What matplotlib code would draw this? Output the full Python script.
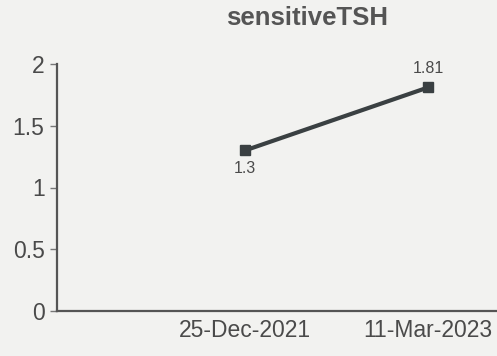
import matplotlib
matplotlib.use("Agg")
import matplotlib.pyplot as plt

title = "sensitiveTSH"
categories = ["25-Dec-2021", "11-Mar-2023"]
values = [1.3, 1.81]
yticks = [0, 0.5, 1, 1.5, 2]
ytick_labels = ["0", "0.5", "1", "1.5", "2"]

plt.rcParams['font.family'] = ['Liberation Sans', 'DejaVu Sans']
bg = "#f2f2f0"
txt = "#4a4a4a"
line_c = "#3a4042"

fig = plt.figure(figsize=(4.97, 3.56), dpi=100, facecolor=bg)
ax = fig.add_axes([57/497, 1 - 311/356, (497 - 57)/497, (311 - 64)/356])
ax.set_facecolor(bg)

xs = list(range(1, len(categories) + 1))
ax.plot(xs, values, color=line_c, lw=3, marker="s", ms=6.5, mfc=line_c, mec=line_c)

ax.set_xlim(-0.027, 2.377)
ax.set_ylim(0, 2)
ax.set_yticks(yticks)
ax.set_yticklabels(ytick_labels, fontsize=16.5, color=txt)
ax.set_xticks(xs)
ax.set_xticklabels(categories, fontsize=16.5, color=txt)
ax.tick_params(axis='x', length=0, pad=6)
ax.tick_params(axis='y', length=5, width=1, color="#777777", pad=4)

for s in ["top", "right"]:
    ax.spines[s].set_visible(False)
for s in ["left", "bottom"]:
    ax.spines[s].set_color("#555555")
    ax.spines[s].set_linewidth(1.6)

offsets = [-13, 14]
for x, v, off in zip(xs, values, offsets):
    ax.annotate(f"{v:g}", (x, v), xytext=(0, off), textcoords="offset points",
                ha="center", va="center", fontsize=11.5, color=txt)

fig.text(307/497, 1 - 18/356, title, ha="center", va="center",
         fontsize=18.5, fontweight="bold", color="#555555")

fig.savefig("out.png", dpi=100, facecolor=bg)
